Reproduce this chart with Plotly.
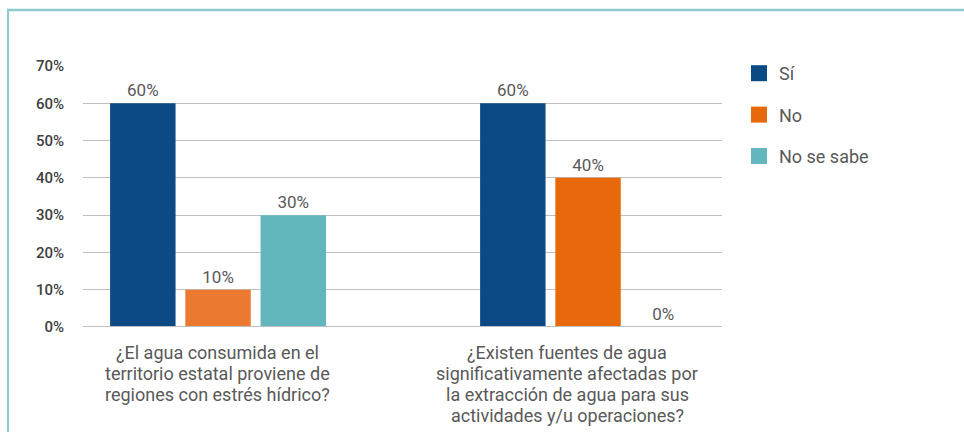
import plotly.graph_objects as go

categories = ["q1", "q2"]
category_label_lines = [
    ["¿El agua consumida en el", "territorio estatal proviene de", "regiones con estrés hídrico?"],
    ["¿Existen fuentes de agua", "significativamente afectadas por",
     "la extracción de agua para sus", "actividades y/u operaciones?"],
]
series_names = ["Sí", "No", "No se sabe"]
si_values = [0.60, 0.60]
no_values = [0.10, 0.40]
nosabe_values = [0.30, 0.00]
tick_values = [0, 0.1, 0.2, 0.3, 0.4, 0.5, 0.6, 0.7]
tick_labels = ["0%", "10%", "20%", "30%", "40%", "50%", "60%", "70%"]

FONT = "Roboto"
TXT = "#595959"

fig = go.Figure()
series = [
    (series_names[0], si_values, "#0B4A85", ["#0B4A85", "#0B4A85"]),
    (series_names[1], no_values, "#E8690C", ["#EB7A30", "#E8690C"]),
    (series_names[2], nosabe_values, "#63B7BC", ["#63B7BC", "#63B7BC"]),
]
for name, vals, legcol, cols in series:
    fig.add_trace(go.Bar(
        x=categories, y=vals, name=name,
        marker=dict(color=cols, line=dict(width=0)),
        text=[f"{round(v*100)}%" for v in vals],
        textposition="outside", cliponaxis=False,
        textfont=dict(family=FONT, size=17, color=TXT),
        showlegend=False, hoverinfo="skip",
    ))
for name, vals, legcol, cols in series:
    # legend proxy (scatter, so it takes no bar slot)
    fig.add_trace(go.Scatter(x=[None], y=[None], name=name, mode="markers",
                             legendgroup=name,
                             marker=dict(color=legcol, symbol="square", size=22),
                             showlegend=True))

L, R, T, B = 83, 242, 66, 105
H = 432 - T - B
W = 964 - L - R

def px(x):
    return (x - L) / W

def py(y):
    return (432 - B - y) / H

for cat, lines, shift in zip(categories, category_label_lines, [-1, -21]):
    for i, line in enumerate(lines):
        fig.add_annotation(x=cat, xref="x", y=py(352 + 21 * i), yref="paper", text=line,
                           showarrow=False, yanchor="middle", xanchor="center",
                           xshift=shift, font=dict(family=FONT, size=18, color=TXT))

fig.add_shape(type="line", xref="paper", yref="paper", x0=px(8), x1=px(8), y0=py(440), y1=py(10),
              line=dict(color="#8FCACE", width=2))
fig.add_shape(type="line", xref="paper", yref="paper", x0=px(7), x1=px(970), y0=py(10), y1=py(10),
              line=dict(color="#8FCACE", width=2.5))

fig.update_layout(
    width=964, height=432,
    margin=dict(l=L, r=R, t=T, b=B, pad=0),
    paper_bgcolor="white", plot_bgcolor="white",
    barmode="group", bargap=0.39, bargroupgap=0.13,
    font=dict(family=FONT, color=TXT),
    hovermode=False,
    xaxis=dict(type="category", range=[-0.365, 1.362], showticklabels=False,
               showgrid=False, zeroline=False, showline=False, ticks=""),
    yaxis=dict(range=[0, 0.7], tickvals=tick_values, ticktext=tick_labels,
               showgrid=True, gridcolor="#BFBFBF", gridwidth=1.2, zeroline=False,
               showline=False, ticks="outside", ticklen=15, tickcolor="rgba(0,0,0,0)",
               tickfont=dict(family=FONT, size=15, color="#404040", weight=500)),
    legend=dict(x=px(739), y=py(55), xanchor="left", yanchor="top",
                font=dict(family=FONT, size=18, color=TXT), tracegroupgap=15,
                itemsizing="trace", bgcolor="rgba(0,0,0,0)"),
)
fig.add_shape(type="line", xref="paper", yref="y", x0=0, x1=1, y0=0, y1=0,
              line=dict(color="#BFBFBF", width=2), layer="above")

fig.write_html("out.html", config={"displayModeBar": False},
               post_script="document.body.style.margin='0px';")
